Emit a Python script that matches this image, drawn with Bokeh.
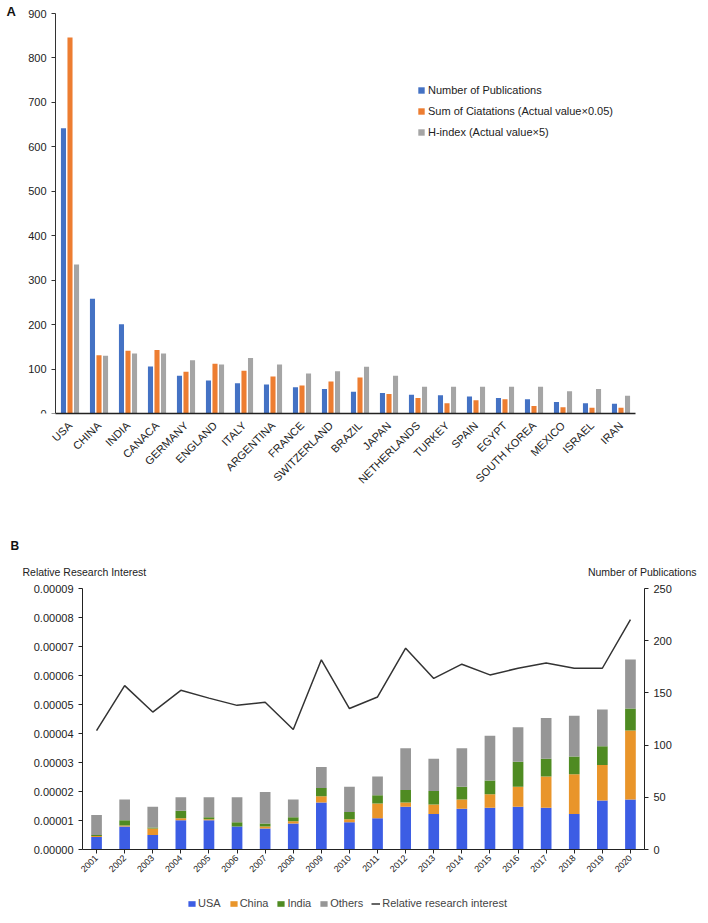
from math import pi
from bokeh.plotting import figure
from bokeh.models import (ColumnDataSource, FactorRange, Range1d, LinearAxis, Legend,
                          LegendItem, Title, Label, FixedTicker, PrintfTickFormatter)
from bokeh.transform import dodge
from bokeh.embed import file_html
from bokeh.resources import INLINE

# ---------------- Panel A data ----------------
countries = ["USA", "CHINA", "INDIA", "CANACA", "GERMANY", "ENGLAND", "ITALY", "ARGENTINA",
             "FRANCE", "SWITZERLAND", "BRAZIL", "JAPAN", "NETHERLANDS", "TURKEY", "SPAIN",
             "EGYPT", "SOUTH KOREA", "MEXICO", "ISRAEL", "IRAN"]
publications = [642, 258, 201, 106, 85, 74, 68, 65, 59, 55, 49, 46, 42, 41, 38, 35, 32, 26, 23, 22]
citations_x005 = [846, 131, 141, 143, 94, 112, 96, 83, 63, 72, 81, 44, 35, 23, 30, 32, 17, 14, 13, 13]
hindex_x5 = [335, 130, 135, 135, 120, 110, 125, 110, 90, 95, 105, 85, 60, 60, 60, 60, 60, 50, 55, 40]
a_ticks = [0, 100, 200, 300, 400, 500, 600, 700, 800, 900]
A_MAX = 900

# ---------------- Panel B data ----------------
years = ["2001", "2002", "2003", "2004", "2005", "2006", "2007", "2008", "2009", "2010",
         "2011", "2012", "2013", "2014", "2015", "2016", "2017", "2018", "2019", "2020"]
usa = [12, 22, 14, 28, 28, 22, 20, 25, 45, 26, 30, 41, 34, 39, 40, 41, 40, 34, 47, 48]
china = [1, 1, 6, 2, 1, 0, 2, 2, 6, 3, 14, 4, 9, 9, 13, 19, 30, 38, 34, 66]
india = [1, 5, 1, 7, 2, 4, 3, 4, 8, 7, 8, 12, 13, 12, 13, 24, 17, 17, 18, 21]
others = [19, 20, 20, 13, 19, 24, 30, 17, 20, 24, 18, 40, 31, 37, 43, 33, 39, 39, 35, 47]
relative_interest = [0.0000410, 0.0000565, 0.0000474, 0.0000549, 0.0000522, 0.0000497,
                     0.0000508, 0.0000414, 0.0000654, 0.0000486, 0.0000526, 0.0000694,
                     0.0000590, 0.0000639, 0.0000602, 0.0000625, 0.0000643, 0.0000625,
                     0.0000625, 0.0000793]
left_ticks = [0.0, 0.00001, 0.00002, 0.00003, 0.00004, 0.00005, 0.00006, 0.00007, 0.00008, 0.00009]
right_ticks = [0, 50, 100, 150, 200, 250]
LEFT_MAX = 0.00009
RIGHT_MAX = 250

FONT = "Liberation Sans"
TXT = "#222222"

# ================= Figure A (layout in pixels) =================
A_W, A_H = 708, 500
A_FRAME_W, A_BORDER_R, A_BORDER_B = 690, 18, 87
A_AXIS_W, A_AXIS_H = 580, 400          # plotted area between the axes
A_FRAME_H = A_H - A_BORDER_B
nA = len(countries)
padA = (A_FRAME_W - A_AXIS_W) / 2 / (A_AXIS_W / nA)

pa = figure(width=A_W, height=A_H,
            x_range=FactorRange(factors=countries, range_padding=padA,
                                range_padding_units="absolute"),
            y_range=Range1d(0, A_MAX * A_FRAME_H / A_AXIS_H),
            output_backend="svg", toolbar_location=None,
            min_border_left=0, min_border_right=A_BORDER_R, min_border_top=0,
            min_border_bottom=A_BORDER_B)
pa.outline_line_color = None
pa.xgrid.grid_line_color = None
pa.ygrid.grid_line_color = None

srcA = ColumnDataSource(dict(country=countries, pubs=publications, cit=citations_x005, h=hindex_x5))
ra1 = pa.vbar(x=dodge("country", -0.225, range=pa.x_range), top="pubs", width=0.175,
              source=srcA, fill_color="#4472C4", line_color=None)
ra2 = pa.vbar(x=dodge("country", 0.0, range=pa.x_range), top="cit", width=0.175,
              source=srcA, fill_color="#ED7D31", line_color=None)
ra3 = pa.vbar(x=dodge("country", 0.225, range=pa.x_range), top="h", width=0.175,
              source=srcA, fill_color="#A5A5A5", line_color=None)

ya = pa.yaxis[0]
ya.fixed_location = 0
ya.bounds = (0, A_MAX)
ya.ticker = FixedTicker(ticks=a_ticks)
ya.axis_line_color = "#333333"
ya.major_tick_line_color = "#333333"
ya.major_tick_in = 0
ya.major_tick_out = 4
ya.minor_tick_line_color = None
ya.major_label_text_font = FONT
ya.major_label_text_font_size = "11px"
ya.major_label_text_color = TXT

xa = pa.xaxis[0]
xa.bounds = (0, nA)
xa.axis_line_color = "#222222"
xa.axis_line_width = 1.5
xa.major_tick_line_color = None
xa.minor_tick_line_color = None
xa.major_label_orientation = pi / 4
xa.major_label_text_font = FONT
xa.major_label_text_font_size = "11px"
xa.major_label_text_color = TXT
xa.major_label_standoff = 4

legA = Legend(items=[LegendItem(label="Number of Publications", renderers=[ra1]),
                     LegendItem(label="Sum of Ciatations (Actual value\u00d70.05)", renderers=[ra2]),
                     LegendItem(label="H-index (Actual value\u00d75)", renderers=[ra3])],
              location=(417, 273), orientation="vertical",
              glyph_width=8, glyph_height=8, label_height=17, label_standoff=3,
              spacing=4, padding=0, margin=0, border_line_color=None,
              background_fill_alpha=0,
              label_text_font=FONT, label_text_font_size="11px", label_text_color=TXT)
pa.add_layout(legA, "center")

pa.add_layout(Label(x=6, y=A_FRAME_H - 3, x_units="screen", y_units="screen", text="A",
                    text_font=FONT, text_font_style="bold", text_font_size="13px",
                    text_baseline="top", text_color="#111111"))

# ================= Figure B (layout in pixels) =================
B_W, B_H = 708, 423
B_BORDER_L, B_BORDER_T, B_BORDER_B = 18, 55, 8
B_AXIS_W = 562                          # width between the two y axes
B_ZERO_PX, B_AXIS_H = 66.0, 261.0       # zero line above frame bottom, axis height
B_FRAME_W = B_W - B_BORDER_L
B_FRAME_H = B_H - B_BORDER_T - B_BORDER_B
nB = len(years)
padB = (B_FRAME_W - B_AXIS_W) / 2 / (B_AXIS_W / nB)
top_frac = (B_FRAME_H - B_ZERO_PX) / B_AXIS_H
bot_frac = B_ZERO_PX / B_AXIS_H

pb = figure(width=B_W, height=B_H,
            x_range=FactorRange(factors=years, range_padding=padB,
                                range_padding_units="absolute"),
            y_range=Range1d(-LEFT_MAX * bot_frac, LEFT_MAX * top_frac),
            output_backend="svg", toolbar_location=None,
            min_border_left=B_BORDER_L, min_border_right=0, min_border_top=B_BORDER_T,
            min_border_bottom=B_BORDER_B)
pb.extra_y_ranges = {"pubs": Range1d(-RIGHT_MAX * bot_frac, RIGHT_MAX * top_frac)}
pb.outline_line_color = None
pb.xgrid.grid_line_color = None
pb.ygrid.grid_line_color = None

srcB = ColumnDataSource(dict(year=years, usa=usa, china=china, india=india, others=others,
                             rel=relative_interest))
bars = pb.vbar_stack(["usa", "china", "india", "others"], x="year", width=0.38,
                     color=["#3C5DE4", "#E9952A", "#4F8B22", "#969696"],
                     line_color=None, source=srcB, y_range_name="pubs")
rline = pb.line(x="year", y="rel", source=srcB, line_color="#333333", line_width=1.5)

ax = pb.yaxis[0]
ax.fixed_location = 0
ax.bounds = (0, LEFT_MAX)
ax.ticker = FixedTicker(ticks=left_ticks)
ax.formatter = PrintfTickFormatter(format="%.5f")
ax.axis_line_color = "#222222"
ax.major_tick_line_color = "#222222"
ax.major_tick_in = 0
ax.major_tick_out = 4
ax.minor_tick_line_color = None
ax.major_label_text_font = FONT
ax.major_label_text_font_size = "11px"
ax.major_label_text_color = TXT

rax = LinearAxis(y_range_name="pubs", ticker=FixedTicker(ticks=right_ticks),
                 fixed_location=nB, bounds=(0, RIGHT_MAX),
                 axis_line_color="#222222", major_tick_line_color="#222222",
                 major_tick_in=0, major_tick_out=4, minor_tick_line_color=None,
                 major_label_text_font=FONT, major_label_text_font_size="11px",
                 major_label_text_color=TXT)
pb.add_layout(rax, "right")

xax = pb.xaxis[0]
xax.fixed_location = 0
xax.bounds = (0, nB)
xax.axis_line_color = "#222222"
xax.major_tick_line_color = "#222222"
xax.major_tick_in = 0
xax.major_tick_out = 4
xax.minor_tick_line_color = None
xax.major_label_orientation = pi / 4
xax.major_label_text_font = FONT
xax.major_label_text_font_size = "9px"
xax.major_label_text_color = TXT
xax.major_label_standoff = 3

legB = Legend(items=[LegendItem(label="USA", renderers=[bars[0]]),
                     LegendItem(label="China", renderers=[bars[1]]),
                     LegendItem(label="India", renderers=[bars[2]]),
                     LegendItem(label="Others", renderers=[bars[3]]),
                     LegendItem(label="Relative research interest", renderers=[rline])],
              location=(169, 5), orientation="horizontal",
              glyph_width=9, glyph_height=7, label_height=14, label_standoff=2,
              spacing=8, padding=0, margin=0, border_line_color=None,
              background_fill_alpha=0,
              label_text_font=FONT, label_text_font_size="11px", label_text_color="#444444")
pb.add_layout(legB, "center")

text_y = B_FRAME_H - 16
pb.add_layout(Label(x=4, y=text_y, x_units="screen", y_units="screen",
                    text="Relative Research Interest", text_font=FONT, text_font_size="10.5px",
                    text_baseline="middle", text_align="left", text_color=TXT))
pb.add_layout(Label(x=678, y=text_y, x_units="screen", y_units="screen",
                    text="Number of Publications", text_font=FONT, text_font_size="10.5px",
                    text_baseline="middle", text_align="right", text_color=TXT))
pb.add_layout(Title(text="B", align="left", offset=-8, standoff=6,
                    text_font=FONT, text_font_style="bold", text_font_size="12px",
                    text_color="#111111"), "above")

open("out.html", "w").write(file_html([pa, pb], INLINE))
